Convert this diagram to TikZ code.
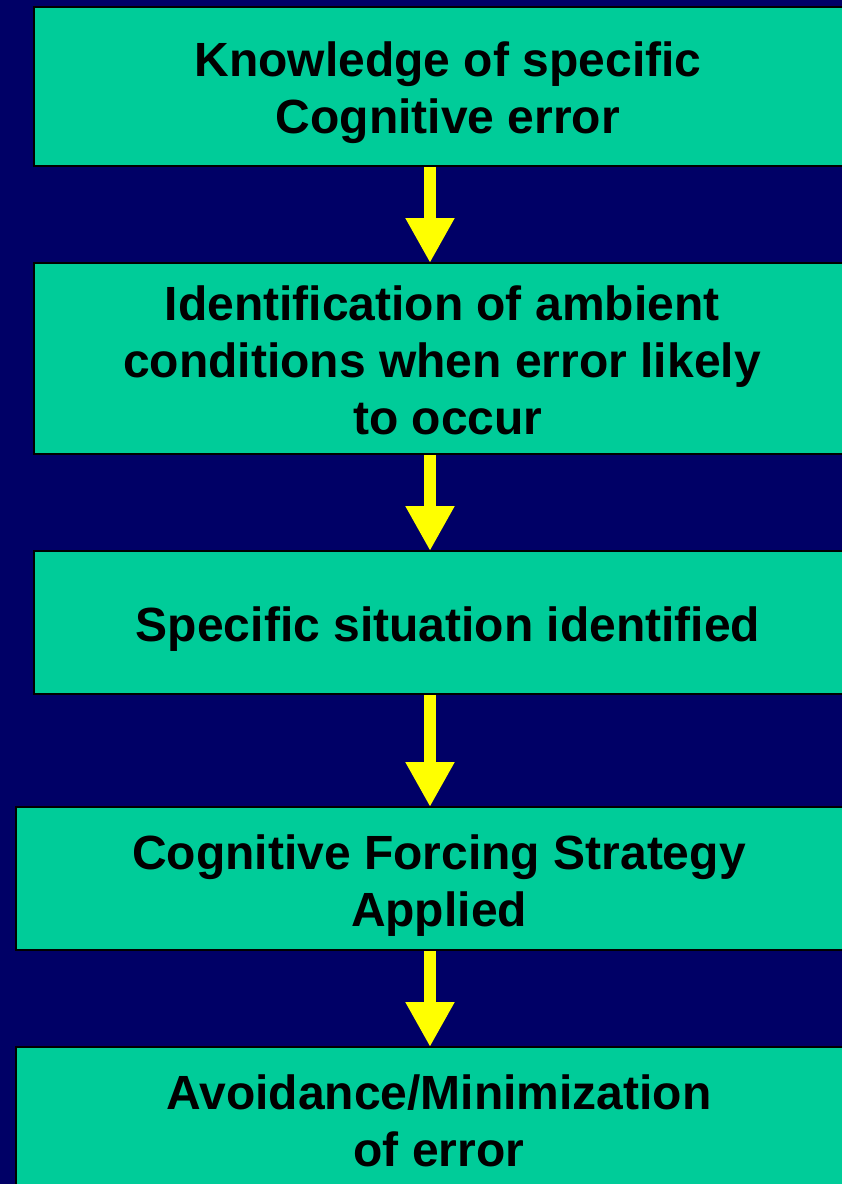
\documentclass[tikz,border=0pt]{standalone}
\usepackage{fontspec}
\setmainfont{Liberation Sans}
\usetikzlibrary{arrows.meta}
\definecolor{navy}{RGB}{0,0,102}
\definecolor{boxgreen}{RGB}{0,204,153}
\definecolor{flowyellow}{RGB}{255,255,0}
\pgfdeclarelayer{backdrop}
\pgfdeclarelayer{flowlayer}
\pgfsetlayers{backdrop,flowlayer,main}
\begin{document}
\begin{tikzpicture}[x=1bp,y=-1bp,
  stepbox/.style={rectangle, draw=black, line width=2bp, fill=boxgreen,
    inner sep=0pt, outer sep=0pt},
  steptext/.style={inner sep=0pt, align=center,
    font=\fontsize{48bp}{57bp}\selectfont\bfseries},
  flow/.style={draw=flowyellow, line width=12bp,
    -{Triangle[width=46bp,length=45bp,fill=flowyellow]}}]
  \useasboundingbox (0,0) rectangle (842,1184);
  \clip (0,0) rectangle (842,1184);
  \begin{pgfonlayer}{backdrop}
    \fill[navy] (0,0) rectangle (842,1184);
  \end{pgfonlayer}
  \coordinate (ax) at (430,0);

  % boxes, top to bottom
  \node[stepbox, minimum width=828bp, minimum height=159bp] (b1) at (448,86.5) {};
  \node[stepbox, minimum width=828bp, minimum height=191bp] (b2) at (448,358.5) {};
  \node[stepbox, minimum width=828bp, minimum height=143bp] (b3) at (448,622.5) {};
  \node[stepbox, minimum width=846bp, minimum height=143bp] (b4) at (439,878.5) {};
  \node[stepbox, minimum width=846bp, minimum height=148bp] (b5) at (439,1121) {};

  % box texts
  \node[steptext] (t1) at (448,92.5) {Knowledge of specific\\Cognitive error};
  \node[steptext] (t2) at (442,360.5)
    {Identification of ambient\\conditions when error likely\\\hspace*{12bp}to occur};
  \node[steptext] (t3) at (448,629.5) {Specific situation identified};
  \node[steptext] (t4) at (439,885.5) {Cognitive Forcing Strategy\\Applied};
  \node[steptext] (t5) at (439,1121) {Avoidance/Minimization\\of error};

  % connecting arrows, beneath the box outlines
  \begin{pgfonlayer}{flowlayer}
    \draw[flow] (b1.south -| ax) -- (b2.north -| ax);
    \draw[flow] (b2.south -| ax) -- (b3.north -| ax);
    \draw[flow] (b3.south -| ax) -- (b4.north -| ax);
    \draw[flow] (b4.south -| ax) -- (b5.north -| ax);
  \end{pgfonlayer}
\end{tikzpicture}
\end{document}
